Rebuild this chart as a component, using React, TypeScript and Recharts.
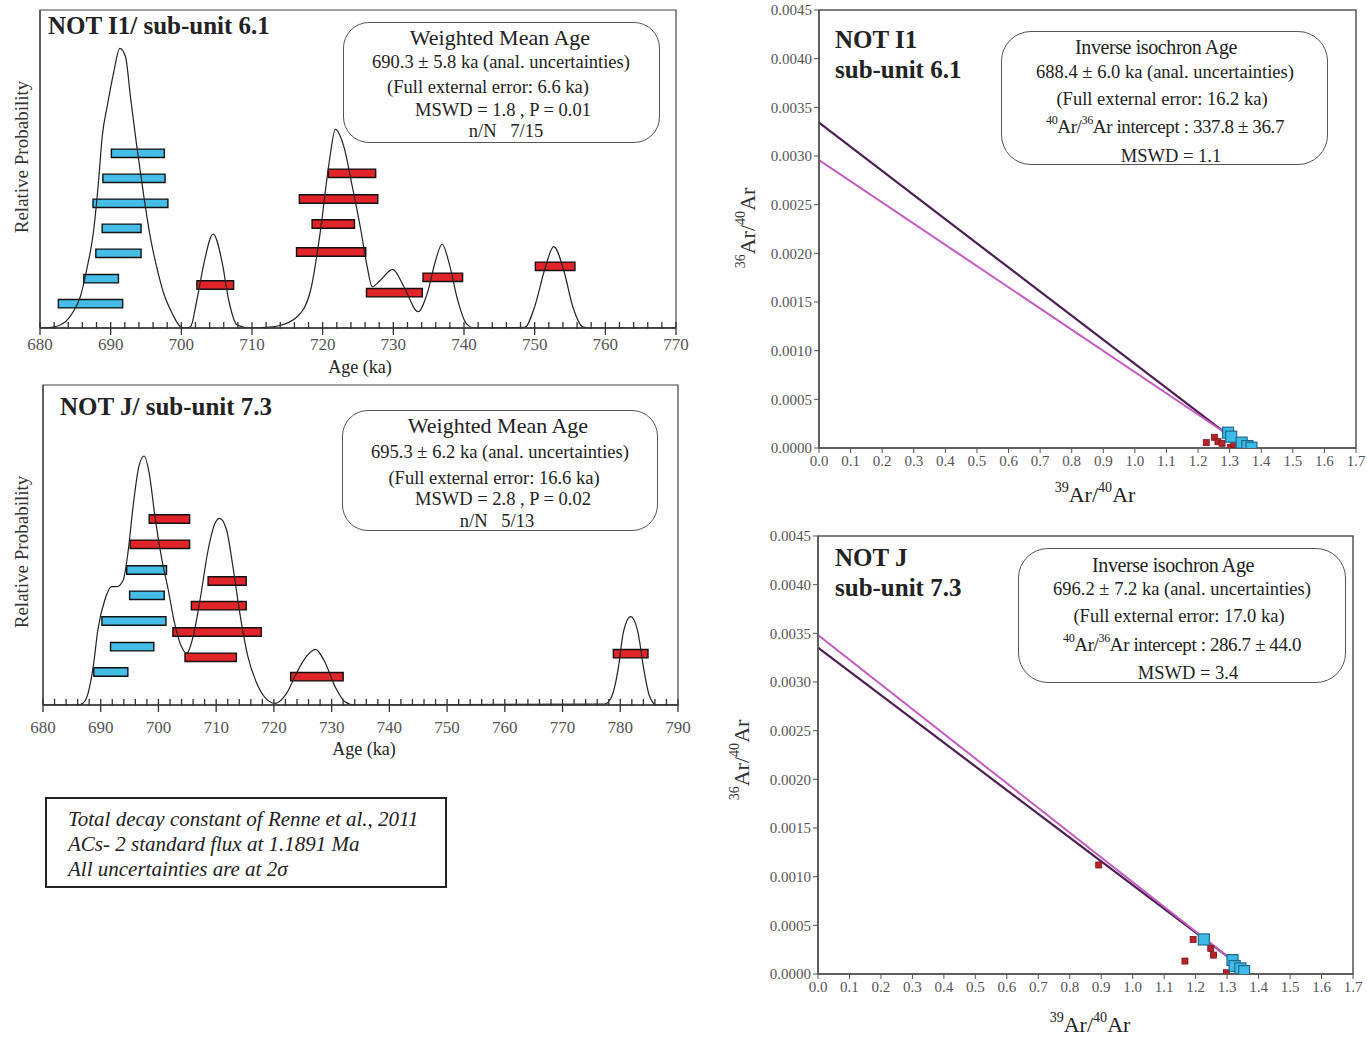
import React from "react";
import {
  ComposedChart,
  Line,
  Scatter,
  XAxis,
  YAxis,
  ReferenceArea,
} from "recharts";

const FONT = '"Liberation Serif", "Times New Roman", serif';

// probability curves: [age ka, relative probability]
const curveI1 = [
  [680, 0], [681.4, 0.003], [683.3, 0.047], [684.7, 0.163], [685.7, 0.313],
  [686.6, 0.58], [687.6, 0.98], [688.3, 1.48], [688.8, 1.913], [689.5, 2.213],
  [690.4, 2.547], [691.3, 2.797], [692.1, 2.713], [692.8, 2.313], [693.7, 1.813],
  [694.7, 1.313], [695.6, 0.913], [696.5, 0.613], [697.5, 0.347], [698.7, 0.147],
  [699.9, 0.013], [700.6, 0], [701.3, 0.013], [702.2, 0.28], [703.2, 0.647],
  [704.5, 0.94], [705.8, 0.647], [706.7, 0.28], [707.9, 0.03], [709.8, 0],
  [711.5, 0.005], [713.6, 0.02], [716.4, 0.113], [718.3, 0.38], [719.7, 0.98],
  [720.9, 1.647], [721.8, 1.987], [723.0, 1.813], [724.2, 1.413], [725.4, 0.98],
  [726.3, 0.613], [727.0, 0.413], [728.2, 0.48], [729.9, 0.587], [731.5, 0.413],
  [733.5, 0.163], [734.8, 0.347], [736.0, 0.68], [736.9, 0.84], [737.9, 0.647],
  [739.1, 0.28], [740.3, 0.047], [741.5, 0], [748.6, 0.007], [750.0, 0.213],
  [751.4, 0.58], [752.7, 0.813], [754.1, 0.58], [755.4, 0.213], [756.8, 0.013],
  [758, 0], [770, 0],
];

const curveJ = [
  [680, 0], [686, 0], [686.9, 0.017], [687.8, 0.117], [688.7, 0.383],
  [689.5, 0.75], [690.7, 1.05], [691.9, 1.183], [692.8, 1.183], [693.9, 1.25],
  [694.7, 1.517], [695.6, 1.983], [696.6, 2.383], [697.5, 2.49], [698.4, 2.317],
  [699.4, 1.883], [700.5, 1.483], [701.7, 1.15], [702.8, 0.817], [704.0, 0.583],
  [704.9, 0.517], [706.0, 0.683], [707.2, 1.05], [708.6, 1.55], [709.8, 1.817],
  [710.6, 1.867], [711.8, 1.75], [712.9, 1.383], [714.1, 0.917], [715.5, 0.483],
  [717.3, 0.183], [719.3, 0.033], [720.2, 0.017], [722.2, 0.117], [723.9, 0.317],
  [725.6, 0.483], [727.2, 0.557], [728.8, 0.433], [730.6, 0.183], [732.3, 0.033],
  [734, 0], [777.3, 0.01], [778.5, 0.083], [779.7, 0.383], [780.5, 0.717],
  [781.8, 0.883], [783.1, 0.717], [784.0, 0.383], [785.1, 0.083], [786.3, 0],
  [790, 0],
];

// single crystal ages: [min age, max age, plotted height]
const barsI1Blue = [
  [690.1, 697.6, 1.747], [688.9, 697.7, 1.497], [687.5, 698.1, 1.247],
  [688.8, 694.3, 0.997], [687.9, 694.3, 0.747], [686.2, 691.1, 0.493],
  [682.6, 691.7, 0.243],
];
const barsI1Red = [
  [702.2, 707.4, 0.43], [720.8, 727.5, 1.547], [716.7, 727.8, 1.29],
  [718.5, 724.5, 1.04], [716.3, 726.1, 0.76], [726.2, 734.1, 0.353],
  [734.2, 739.8, 0.507], [750.1, 755.7, 0.617],
];
const barsJBlue = [
  [694.5, 701.4, 1.35], [695.0, 701.0, 1.097], [690.2, 701.3, 0.84],
  [691.7, 699.2, 0.583], [688.8, 694.7, 0.33],
];
const barsJRed = [
  [698.4, 705.4, 1.86], [695.1, 705.4, 1.607], [708.6, 715.2, 1.24],
  [705.7, 715.2, 0.993], [702.5, 717.8, 0.73], [704.6, 713.5, 0.477],
  [722.9, 732.0, 0.283], [778.8, 784.8, 0.513],
];

// isochron data: x = 39Ar/40Ar, y = 36Ar/40Ar
const isoI1Blue = [
  { x: 1.295, y: 0.000157 }, { x: 1.305, y: 0.000116 }, { x: 1.338, y: 0.000055 },
  { x: 1.356, y: 0.00002 }, { x: 1.369, y: 0.000003 },
];
const isoI1Red = [
  { x: 1.226, y: 0.000055 }, { x: 1.252, y: 0.00011 }, { x: 1.263, y: 0.000065 },
  { x: 1.276, y: 0.000048 }, { x: 1.303, y: 0.000007 }, { x: 1.313, y: 0.000038 },
];
const isoI1Atm = [{ x: 0, y: 0.003342 }, { x: 1.281, y: 0.000167 }];
const isoI1Fit = [{ x: 0, y: 0.002959 }, { x: 1.281, y: 0.000167 }];

const isoJBlue = [
  { x: 1.226, y: 0.000355 }, { x: 1.317, y: 0.000143 }, { x: 1.324, y: 0.000082 },
  { x: 1.342, y: 0.000058 }, { x: 1.354, y: 0.00003 },
];
const isoJRed = [
  { x: 0.892, y: 0.00112 }, { x: 1.192, y: 0.000355 }, { x: 1.248, y: 0.000263 },
  { x: 1.257, y: 0.000194 }, { x: 1.166, y: 0.000133 }, { x: 1.298, y: 0.000013 },
];
const isoJAtm = [{ x: 0, y: 0.003352 }, { x: 1.305, y: 0.00017 }];
const isoJFit = [{ x: 0, y: 0.003483 }, { x: 1.305, y: 0.00017 }];

const isoXTicks = [0, 0.1, 0.2, 0.3, 0.4, 0.5, 0.6, 0.7, 0.8, 0.9, 1.0, 1.1, 1.2, 1.3, 1.4, 1.5, 1.6, 1.7];
const isoYTicks = [0, 0.0005, 0.001, 0.0015, 0.002, 0.0025, 0.003, 0.0035, 0.004, 0.0045];

const BLUE = "#45bde6";
const RED = "#e0242a";
const DARK_LINE = "#4b1f52";
const PINK_LINE = "#c25cbf";

function T({ x, y, size, children, center = true, bold = false, italic = false, color = "#222", spacing = 0 }) {
  return (
    <div
      style={{
        position: "absolute",
        left: x,
        top: y - size * 0.55,
        fontSize: size,
        lineHeight: 1.1 + "",
        whiteSpace: "nowrap",
        transform: center ? "translateX(-50%)" : undefined,
        fontWeight: bold ? 700 : 400,
        fontStyle: italic ? "italic" : "normal",
        color,
        letterSpacing: spacing,
      }}
    >
      {children}
    </div>
  );
}

function Sup({ children }) {
  return (
    <span style={{ fontSize: "0.64em", position: "relative", top: "-0.7em" }}>{children}</span>
  );
}

function RotLabel({ x, y, size, children }) {
  return (
    <div
      style={{
        position: "absolute",
        left: x,
        top: y,
        fontSize: size,
        whiteSpace: "nowrap",
        transform: "translate(-50%, -50%) rotate(-90deg)",
        color: "#333",
      }}
    >
      {children}
    </div>
  );
}

function makeAgeTick(labelDy) {
  return (props) => {
    const { x, y, payload } = props;
    const v = payload.value;
    const major = v % 10 === 0;
    return (
      <g>
        <line x1={x} x2={x} y1={y - 6} y2={y + (major ? 7 : 1)} stroke="#333" strokeWidth={1.3} />
        {major && (
          <text x={x} y={y + labelDy} textAnchor="middle" fontSize={17} fill="#555" fontFamily={FONT}>
            {v}
          </text>
        )}
      </g>
    );
  };
}

function ProbChart({ curve, blue, red, domain, yMax, width, height, margin, labelDy }) {
  const data = curve.map(([age, p]) => ({ age, p }));
  const ticks = [];
  for (let t = domain[0]; t <= domain[1]; t += 2) ticks.push(t);
  const barFor = (b, fill, i) => (
    <ReferenceArea
      key={fill + i}
      x1={b[0]}
      x2={b[1]}
      y1={b[2] - 0.042}
      y2={b[2] + 0.042}
      fill={fill}
      fillOpacity={1}
      stroke="#111"
      strokeWidth={1.4}
    />
  );
  return (
    <ComposedChart width={width} height={height} data={data} margin={margin}>
      <XAxis
        dataKey="age"
        type="number"
        domain={domain}
        ticks={ticks}
        interval={0}
        allowDataOverflow
        tickSize={0}
        tickMargin={0}
        tickLine={false}
        height={40}
        axisLine={{ stroke: "#333", strokeWidth: 1.3 }}
        tick={makeAgeTick(labelDy)}
      />
      <YAxis type="number" domain={[0, yMax]} allowDataOverflow width={1} tick={false} tickLine={false} axisLine={{ stroke: "#444", strokeWidth: 1.2 }} />
      {/* plot frame */}
      <ReferenceArea x1={domain[0]} x2={domain[1]} y1={0} y2={yMax} fill="none" stroke="#444" strokeWidth={1.2} />
      <Line
        type="monotone"
        dataKey="p"
        stroke="#222"
        strokeWidth={1.2}
        dot={false}
        activeDot={false}
        isAnimationActive={false}
      />
      {blue.map((b, i) => barFor(b, BLUE, i))}
      {red.map((b, i) => barFor(b, RED, i))}
    </ComposedChart>
  );
}

const BlueSquare = (props) => {
  const { cx, cy } = props;
  return <rect x={cx - 5.5} y={cy - 5.5} width={11} height={11} fill="#3cbbe8" stroke="#1f6a8a" strokeWidth={1.2} />;
};
const RedSquare = (props) => {
  const { cx, cy } = props;
  return <rect x={cx - 3} y={cy - 3} width={6} height={6} fill="#b5232b" stroke="#7c1218" strokeWidth={0.8} />;
};

function IsoChart({ blue, red, atm, fit, width, height, margin }) {
  const axisStyle = { stroke: "#555", strokeWidth: 1.5 };
  return (
    <ComposedChart width={width} height={height} margin={margin}>
      <XAxis
        dataKey="x"
        type="number"
        domain={[0, 1.7]}
        ticks={isoXTicks}
        interval={0}
        allowDataOverflow
        tickSize={5}
        tickFormatter={(v) => v.toFixed(1)}
        tick={{ fontSize: 15, fill: "#555", fontFamily: FONT }}
        axisLine={axisStyle}
        tickLine={{ stroke: "#555" }}
        height={30}
      />
      <YAxis
        dataKey="y"
        type="number"
        domain={[0, 0.0045]}
        ticks={isoYTicks}
        interval={0}
        allowDataOverflow
        tickSize={5}
        tickFormatter={(v) => v.toFixed(4)}
        tick={{ fontSize: 15, fill: "#555", fontFamily: FONT }}
        axisLine={axisStyle}
        tickLine={{ stroke: "#555" }}
        width={60}
      />
      {/* plot frame */}
      <ReferenceArea x1={0} x2={1.7} y1={0} y2={0.0045} fill="none" stroke="#555" strokeWidth={1.5} />
      <Line data={atm} dataKey="y" type="linear" stroke={DARK_LINE} strokeWidth={2.2} dot={false} activeDot={false} isAnimationActive={false} />
      <Line data={fit} dataKey="y" type="linear" stroke={PINK_LINE} strokeWidth={2} dot={false} activeDot={false} isAnimationActive={false} />
      <Scatter data={red} dataKey="y" shape={RedSquare} isAnimationActive={false} />
      <Scatter data={blue} dataKey="y" shape={BlueSquare} isAnimationActive={false} />
    </ComposedChart>
  );
}

function Box({ left, top, width, height, radius = 26, border = "1.5px solid #555" }) {
  return (
    <div
      style={{
        position: "absolute",
        left,
        top,
        width,
        height,
        border,
        borderRadius: radius,
        boxSizing: "border-box",
        background: "#fff",
      }}
    />
  );
}

export default function App() {
  return (
    <div
      style={{
        position: "absolute",
        left: 0,
        top: 0,
        width: 1367,
        height: 1039,
        background: "#fff",
        fontFamily: FONT,
        color: "#222",
        overflow: "hidden",
      }}
    >
      {/* top left: probability plot NOT I1 */}
      <div style={{ position: "absolute", left: 0, top: 0 }}>
        <ProbChart
          curve={curveI1}
          blue={barsI1Blue}
          red={barsI1Red}
          domain={[680, 770]}
          yMax={3.18}
          width={700}
          height={385}
          margin={{ top: 10, left: 39, right: 24, bottom: 17 }}
          labelDy={22}
        />
      </div>
      <T x={48} y={26} size={25} bold center={false}>NOT I1/ sub-unit 6.1</T>
      <RotLabel x={22} y={157} size={19}>Relative Probability</RotLabel>
      <T x={360} y={368} size={18}>Age (ka)</T>
      <Box left={343} top={22} width={317} height={121} />
      <T x={500} y={38} size={22}>Weighted Mean Age</T>
      <T x={501} y={62} size={18.5}>690.3 ± 5.8 ka (anal. uncertainties)</T>
      <T x={488} y={87} size={18.5}>(Full external error: 6.6 ka)</T>
      <T x={503} y={110} size={18.5}>MSWD = 1.8 , P = 0.01</T>
      <T x={506} y={131} size={18.5}>n/N &nbsp; 7/15</T>

      {/* bottom left: probability plot NOT J */}
      <div style={{ position: "absolute", left: 0, top: 380 }}>
        <ProbChart
          curve={curveJ}
          blue={barsJBlue}
          red={barsJRed}
          domain={[680, 790]}
          yMax={3.2}
          width={700}
          height={400}
          margin={{ top: 5, left: 42, right: 22, bottom: 35 }}
          labelDy={28}
        />
      </div>
      <T x={60} y={407} size={25} bold center={false}>NOT J/ sub-unit 7.3</T>
      <RotLabel x={22} y={552} size={19}>Relative Probability</RotLabel>
      <T x={364} y={750} size={18}>Age (ka)</T>
      <Box left={342} top={410} width={316} height={121} />
      <T x={498} y={426} size={22}>Weighted Mean Age</T>
      <T x={500} y={452} size={18.5}>695.3 ± 6.2 ka (anal. uncertainties)</T>
      <T x={494} y={478} size={18.5}>(Full external error: 16.6 ka)</T>
      <T x={503} y={499} size={18.5}>MSWD = 2.8 , P = 0.02</T>
      <T x={497} y={521} size={18.5}>n/N &nbsp; 5/13</T>

      {/* note */}
      <Box left={45} top={797} width={402} height={91} radius={0} border="2.5px solid #222" />
      <T x={68} y={820} size={21} italic center={false}>Total decay constant of Renne et al., 2011</T>
      <T x={68} y={845} size={21} italic center={false}>ACs- 2 standard flux at 1.1891 Ma</T>
      <T x={68} y={870} size={21} italic center={false}>All uncertainties are at 2σ</T>

      {/* top right: isochron NOT I1 */}
      <div style={{ position: "absolute", left: 740, top: 0 }}>
        <IsoChart
          blue={isoI1Blue}
          red={isoI1Red}
          atm={isoI1Atm}
          fit={isoI1Fit}
          width={630}
          height={520}
          margin={{ top: 10, left: 19, right: 14, bottom: 42 }}
        />
      </div>
      <T x={835} y={40} size={25} bold center={false}>NOT I1</T>
      <T x={835} y={70} size={25} bold center={false}>sub-unit 6.1</T>
      <Box left={1001} top={31} width={327} height={134} radius={30} />
      <T x={1156} y={47} size={20} spacing={-0.4}>Inverse isochron Age</T>
      <T x={1165} y={72} size={18.5}>688.4 ± 6.0 ka (anal. uncertainties)</T>
      <T x={1162} y={99} size={18.5}>(Full external error: 16.2 ka)</T>
      <T x={1165} y={127} size={19} spacing={-0.4}><Sup>40</Sup>Ar/<Sup>36</Sup>Ar intercept : 337.8 ± 36.7</T>
      <T x={1171} y={156} size={18.5}>MSWD = 1.1</T>
      <RotLabel x={748} y={228} size={22}><Sup>36</Sup>Ar/<Sup>40</Sup>Ar</RotLabel>
      <T x={1095} y={495} size={22}><Sup>39</Sup>Ar/<Sup>40</Sup>Ar</T>

      {/* bottom right: isochron NOT J */}
      <div style={{ position: "absolute", left: 735, top: 520 }}>
        <IsoChart
          blue={isoJBlue}
          red={isoJRed}
          atm={isoJAtm}
          fit={isoJFit}
          width={630}
          height={519}
          margin={{ top: 16, left: 23, right: 12, bottom: 35 }}
        />
      </div>
      <T x={835} y={558} size={25} bold center={false}>NOT J</T>
      <T x={835} y={588} size={25} bold center={false}>sub-unit 7.3</T>
      <Box left={1018} top={548} width={328} height={135} radius={30} />
      <T x={1173} y={565} size={20} spacing={-0.4}>Inverse isochron Age</T>
      <T x={1182} y={589} size={18.5}>696.2 ± 7.2 ka (anal. uncertainties)</T>
      <T x={1179} y={616} size={18.5}>(Full external error: 17.0 ka)</T>
      <T x={1182} y={645} size={19} spacing={-0.4}><Sup>40</Sup>Ar/<Sup>36</Sup>Ar intercept : 286.7 ± 44.0</T>
      <T x={1188} y={673} size={18.5}>MSWD = 3.4</T>
      <RotLabel x={742} y={760} size={22}><Sup>36</Sup>Ar/<Sup>40</Sup>Ar</RotLabel>
      <T x={1090} y={1025} size={22}><Sup>39</Sup>Ar/<Sup>40</Sup>Ar</T>
    </div>
  );
}
